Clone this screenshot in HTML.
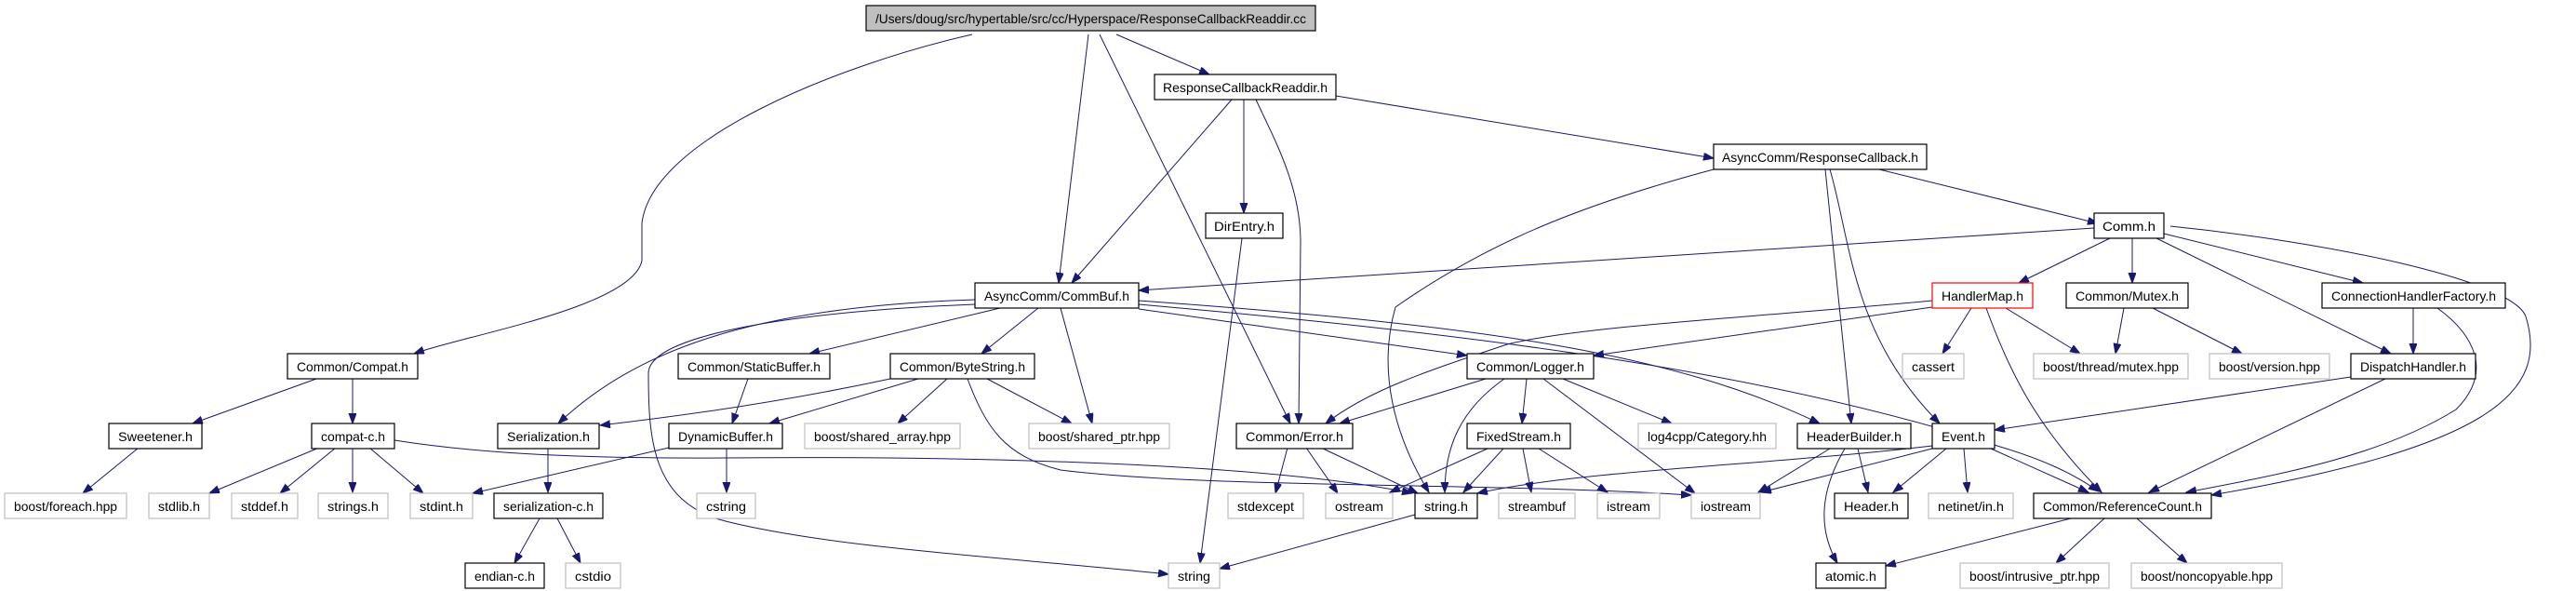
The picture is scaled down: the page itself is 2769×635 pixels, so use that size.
<!DOCTYPE html>
<html><head><meta charset="utf-8"><style>
html,body{margin:0;padding:0;background:#fff;}
svg{display:block;}
text{font-family:"Liberation Sans",sans-serif;font-size:14px;fill:#000;}
.n{fill:#fff;stroke:#000;stroke-width:1.2;}
.g{fill:#fff;stroke:#bfbfbf;stroke-width:1.2;}
.e{fill:none;stroke:#191970;stroke-width:1;marker-end:url(#a);}
</style></head><body>
<svg width="2769" height="635" viewBox="0 0 2769 635" xmlns="http://www.w3.org/2000/svg">
<defs><marker id="a" markerUnits="userSpaceOnUse" markerWidth="12" markerHeight="10" refX="11" refY="4" orient="auto"><path d="M0,0 L11,4 L0,8 z" fill="#191970" stroke="#191970"/></marker></defs>
<g>
<path class="e" d="M1045,37 C900,70 700,150 690,240 L690,280 C680,330 500,360 445,380"/>
<path class="e" d="M1170,37 L1138,304"/>
<path class="e" d="M1182,37 L1387,455"/>
<path class="e" d="M1200,37 L1300,80"/>
<path class="e" d="M1324,107 L1152,304"/>
<path class="e" d="M1337,107 L1337,229"/>
<path class="e" d="M1350,107 C1370,150 1398,200 1398,260 L1396,455"/>
<path class="e" d="M1436,103 L1842,170"/>
<path class="e" d="M1842,182 C1700,220 1600,260 1500,330 C1480,400 1500,470 1536,529"/>
<path class="e" d="M1962,182 L1990,455"/>
<path class="e" d="M1967,182 C1990,260 1990,360 2085,455"/>
<path class="e" d="M2020,182 L2255,240"/>
<path class="e" d="M2251,245 L1224,312"/>
<path class="e" d="M2268,256 L2170,304"/>
<path class="e" d="M2292,256 L2292,304"/>
<path class="e" d="M2326,251 L2540,304"/>
<path class="e" d="M2318,256 L2570,380"/>
<path class="e" d="M2333,243 C2500,260 2700,300 2715,340 C2740,420 2680,480 2377,532"/>
<path class="e" d="M1335,256 L1290,605"/>
<path class="e" d="M1048,322 C800,330 680,380 600,455"/>
<path class="e" d="M1048,327 C850,335 700,360 697,400 C697,470 700,540 780,560 C900,590 1100,600 1256,617"/>
<path class="e" d="M1075,331 L870,380"/>
<path class="e" d="M1116,331 L1055,380"/>
<path class="e" d="M1140,331 L1174,455"/>
<path class="e" d="M1224,332 L1577,382"/>
<path class="e" d="M1224,323 C1600,350 1800,380 1956,455"/>
<path class="e" d="M1224,327 C1600,360 1900,400 2150,480 C2200,495 2230,510 2256,528"/>
<path class="e" d="M957,407 C850,430 750,445 645,457"/>
<path class="e" d="M987,407 L827,455"/>
<path class="e" d="M1018,407 L965,455"/>
<path class="e" d="M1061,407 L1152,455"/>
<path class="e" d="M1040,407 C1060,460 1080,490 1140,505 C1300,525 1600,518 1818,532"/>
<path class="e" d="M804,407 L787,455"/>
<path class="e" d="M719,481 L508,530"/>
<path class="e" d="M781,481 L781,529"/>
<path class="e" d="M343,481 L225,530"/>
<path class="e" d="M361,481 L301,530"/>
<path class="e" d="M379,481 L379,529"/>
<path class="e" d="M397,481 L455,530"/>
<path class="e" d="M424,473 C500,485 600,493 780,492 C1000,490 1350,495 1518,530"/>
<path class="e" d="M340,407 L207,455"/>
<path class="e" d="M379,407 L379,455"/>
<path class="e" d="M149,481 L89,530"/>
<path class="e" d="M589,481 L589,529"/>
<path class="e" d="M580,557 L553,605"/>
<path class="e" d="M599,557 L624,605"/>
<path class="e" d="M1384,481 L1371,530"/>
<path class="e" d="M1404,481 L1438,530"/>
<path class="e" d="M1420,481 L1524,530"/>
<path class="e" d="M1597,407 L1440,455"/>
<path class="e" d="M1617,407 C1570,440 1553,480 1553,529"/>
<path class="e" d="M1641,407 L1636,455"/>
<path class="e" d="M1659,407 L1822,530"/>
<path class="e" d="M1680,407 L1797,455"/>
<path class="e" d="M1599,482 L1494,529"/>
<path class="e" d="M1616,482 L1573,529"/>
<path class="e" d="M1637,482 L1646,529"/>
<path class="e" d="M1654,482 L1728,529"/>
<path class="e" d="M2077,323 C1900,340 1700,350 1620,370 C1530,400 1470,420 1425,455"/>
<path class="e" d="M2077,330 L1713,382"/>
<path class="e" d="M2119,331 L2088,380"/>
<path class="e" d="M2156,331 L2236,380"/>
<path class="e" d="M2135,331 C2160,400 2190,460 2259,529"/>
<path class="e" d="M2283,331 L2274,380"/>
<path class="e" d="M2314,331 L2410,380"/>
<path class="e" d="M2594,331 L2594,380"/>
<path class="e" d="M2620,331 C2660,360 2680,400 2640,440 C2560,490 2450,510 2350,529"/>
<path class="e" d="M2527,405 L2144,462"/>
<path class="e" d="M2564,407 L2310,529"/>
<path class="e" d="M2077,479 C1900,500 1700,505 1588,530"/>
<path class="e" d="M2077,482 L1893,529"/>
<path class="e" d="M2092,482 L2035,529"/>
<path class="e" d="M2111,482 L2115,529"/>
<path class="e" d="M2140,482 L2245,529"/>
<path class="e" d="M1967,482 L1890,529"/>
<path class="e" d="M1997,482 L2008,529"/>
<path class="e" d="M1983,482 C1955,530 1955,570 1975,605"/>
<path class="e" d="M2226,557 L2027,608"/>
<path class="e" d="M2262,557 L2210,605"/>
<path class="e" d="M2297,557 L2351,605"/>
<path class="e" d="M1521,553 L1311,611"/>
</g>
<g>
<rect x="931" y="6" width="483" height="27" fill="#bfbfbf" stroke="#000" stroke-width="1.2"/><text x="941" y="25" textLength="463" lengthAdjust="spacingAndGlyphs">/Users/doug/src/hypertable/src/cc/Hyperspace/ResponseCallbackReaddir.cc</text>
<rect class="n" x="1241" y="80" width="195" height="27"/><text x="1250" y="99" textLength="177" lengthAdjust="spacingAndGlyphs">ResponseCallbackReaddir.h</text>
<rect class="n" x="1842" y="155" width="229" height="27"/><text x="1851" y="174" textLength="211" lengthAdjust="spacingAndGlyphs">AsyncComm/ResponseCallback.h</text>
<rect class="n" x="1296" y="229" width="83" height="27"/><text x="1305" y="248" textLength="65" lengthAdjust="spacingAndGlyphs">DirEntry.h</text>
<rect class="n" x="2251" y="229" width="75" height="27"/><text x="2260" y="248" textLength="57" lengthAdjust="spacingAndGlyphs">Comm.h</text>
<rect class="n" x="1048" y="304" width="176" height="27"/><text x="1058" y="323" textLength="156" lengthAdjust="spacingAndGlyphs">AsyncComm/CommBuf.h</text>
<rect x="2077" y="304" width="108" height="27" fill="#fff" stroke="#ff0000" stroke-width="1.2"/><text x="2087" y="323" textLength="88" lengthAdjust="spacingAndGlyphs">HandlerMap.h</text>
<rect class="n" x="2221" y="304" width="131" height="27"/><text x="2231" y="323" textLength="111" lengthAdjust="spacingAndGlyphs">Common/Mutex.h</text>
<rect class="n" x="2496" y="304" width="197" height="27"/><text x="2506" y="323" textLength="177" lengthAdjust="spacingAndGlyphs">ConnectionHandlerFactory.h</text>
<rect class="n" x="309" y="380" width="140" height="27"/><text x="319" y="399" textLength="120" lengthAdjust="spacingAndGlyphs">Common/Compat.h</text>
<rect class="n" x="729" y="380" width="163" height="27"/><text x="739" y="399" textLength="143" lengthAdjust="spacingAndGlyphs">Common/StaticBuffer.h</text>
<rect class="n" x="957" y="380" width="155" height="27"/><text x="967" y="399" textLength="135" lengthAdjust="spacingAndGlyphs">Common/ByteString.h</text>
<rect class="n" x="1577" y="380" width="136" height="27"/><text x="1587" y="399" textLength="116" lengthAdjust="spacingAndGlyphs">Common/Logger.h</text>
<rect class="g" x="2045" y="380" width="66" height="27"/><text x="2055" y="399" textLength="46" lengthAdjust="spacingAndGlyphs">cassert</text>
<rect class="g" x="2186" y="380" width="166" height="27"/><text x="2196" y="399" textLength="146" lengthAdjust="spacingAndGlyphs">boost/thread/mutex.hpp</text>
<rect class="g" x="2375" y="380" width="129" height="27"/><text x="2385" y="399" textLength="109" lengthAdjust="spacingAndGlyphs">boost/version.hpp</text>
<rect class="n" x="2527" y="380" width="134" height="27"/><text x="2537" y="399" textLength="114" lengthAdjust="spacingAndGlyphs">DispatchHandler.h</text>
<rect class="n" x="117" y="455" width="100" height="27"/><text x="127" y="474" textLength="80" lengthAdjust="spacingAndGlyphs">Sweetener.h</text>
<rect class="n" x="335" y="455" width="89" height="27"/><text x="345" y="474" textLength="69" lengthAdjust="spacingAndGlyphs">compat-c.h</text>
<rect class="n" x="535" y="455" width="109" height="27"/><text x="545" y="474" textLength="89" lengthAdjust="spacingAndGlyphs">Serialization.h</text>
<rect class="n" x="719" y="455" width="122" height="27"/><text x="729" y="474" textLength="102" lengthAdjust="spacingAndGlyphs">DynamicBuffer.h</text>
<rect class="g" x="865" y="455" width="167" height="27"/><text x="875" y="474" textLength="147" lengthAdjust="spacingAndGlyphs">boost/shared_array.hpp</text>
<rect class="g" x="1106" y="455" width="151" height="27"/><text x="1116" y="474" textLength="131" lengthAdjust="spacingAndGlyphs">boost/shared_ptr.hpp</text>
<rect class="n" x="1329" y="455" width="125" height="27"/><text x="1339" y="474" textLength="105" lengthAdjust="spacingAndGlyphs">Common/Error.h</text>
<rect class="n" x="1577" y="455" width="111" height="27"/><text x="1587" y="474" textLength="91" lengthAdjust="spacingAndGlyphs">FixedStream.h</text>
<rect class="g" x="1761" y="455" width="148" height="27"/><text x="1771" y="474" textLength="128" lengthAdjust="spacingAndGlyphs">log4cpp/Category.hh</text>
<rect class="n" x="1932" y="455" width="122" height="27"/><text x="1942" y="474" textLength="102" lengthAdjust="spacingAndGlyphs">HeaderBuilder.h</text>
<rect class="n" x="2077" y="455" width="67" height="27"/><text x="2087" y="474" textLength="47" lengthAdjust="spacingAndGlyphs">Event.h</text>
<rect class="g" x="5" y="530" width="131" height="27"/><text x="15" y="549" textLength="111" lengthAdjust="spacingAndGlyphs">boost/foreach.hpp</text>
<rect class="g" x="160" y="530" width="65" height="27"/><text x="170" y="549" textLength="45" lengthAdjust="spacingAndGlyphs">stdlib.h</text>
<rect class="g" x="249" y="530" width="71" height="27"/><text x="259" y="549" textLength="51" lengthAdjust="spacingAndGlyphs">stddef.h</text>
<rect class="g" x="342" y="530" width="75" height="27"/><text x="352" y="549" textLength="55" lengthAdjust="spacingAndGlyphs">strings.h</text>
<rect class="g" x="441" y="530" width="67" height="27"/><text x="451" y="549" textLength="47" lengthAdjust="spacingAndGlyphs">stdint.h</text>
<rect class="n" x="531" y="530" width="117" height="27"/><text x="541" y="549" textLength="97" lengthAdjust="spacingAndGlyphs">serialization-c.h</text>
<rect class="g" x="749" y="530" width="63" height="27"/><text x="759" y="549" textLength="43" lengthAdjust="spacingAndGlyphs">cstring</text>
<rect class="g" x="1320" y="530" width="81" height="27"/><text x="1330" y="549" textLength="61" lengthAdjust="spacingAndGlyphs">stdexcept</text>
<rect class="g" x="1425" y="530" width="72" height="27"/><text x="1435" y="549" textLength="52" lengthAdjust="spacingAndGlyphs">ostream</text>
<rect class="n" x="1521" y="530" width="67" height="27"/><text x="1531" y="549" textLength="47" lengthAdjust="spacingAndGlyphs">string.h</text>
<rect class="g" x="1611" y="530" width="82" height="27"/><text x="1621" y="549" textLength="62" lengthAdjust="spacingAndGlyphs">streambuf</text>
<rect class="g" x="1717" y="530" width="67" height="27"/><text x="1727" y="549" textLength="47" lengthAdjust="spacingAndGlyphs">istream</text>
<rect class="g" x="1818" y="530" width="74" height="27"/><text x="1828" y="549" textLength="54" lengthAdjust="spacingAndGlyphs">iostream</text>
<rect class="n" x="1972" y="530" width="79" height="27"/><text x="1982" y="549" textLength="59" lengthAdjust="spacingAndGlyphs">Header.h</text>
<rect class="g" x="2073" y="530" width="91" height="27"/><text x="2083" y="549" textLength="71" lengthAdjust="spacingAndGlyphs">netinet/in.h</text>
<rect class="n" x="2186" y="530" width="191" height="27"/><text x="2196" y="549" textLength="171" lengthAdjust="spacingAndGlyphs">Common/ReferenceCount.h</text>
<rect class="n" x="500" y="605" width="85" height="27"/><text x="510" y="624" textLength="65" lengthAdjust="spacingAndGlyphs">endian-c.h</text>
<rect class="g" x="608" y="605" width="59" height="27"/><text x="618" y="624" textLength="39" lengthAdjust="spacingAndGlyphs">cstdio</text>
<rect class="g" x="1256" y="605" width="55" height="27"/><text x="1266" y="624" textLength="35" lengthAdjust="spacingAndGlyphs">string</text>
<rect class="n" x="1952" y="605" width="75" height="27"/><text x="1962" y="624" textLength="55" lengthAdjust="spacingAndGlyphs">atomic.h</text>
<rect class="g" x="2107" y="605" width="160" height="27"/><text x="2117" y="624" textLength="140" lengthAdjust="spacingAndGlyphs">boost/intrusive_ptr.hpp</text>
<rect class="g" x="2291" y="605" width="162" height="27"/><text x="2301" y="624" textLength="142" lengthAdjust="spacingAndGlyphs">boost/noncopyable.hpp</text>
</g>
</svg>
</body></html>
